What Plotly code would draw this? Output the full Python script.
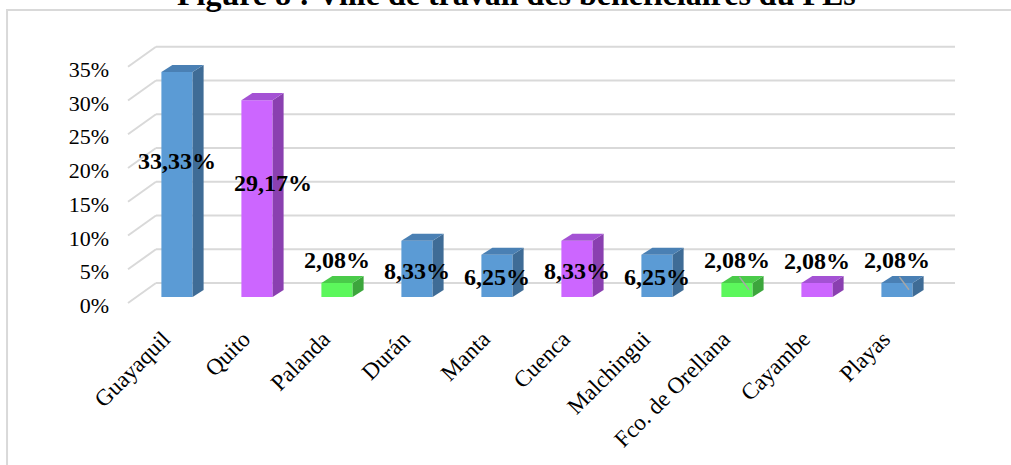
import plotly.graph_objects as go

# ---- data ----
categories = ["Guayaquil", "Quito", "Palanda", "Durán", "Manta", "Cuenca",
              "Malchingui", "Fco. de Orellana", "Cayambe", "Playas"]
values = [33.33, 29.17, 2.08, 8.33, 6.25, 8.33, 6.25, 2.08, 2.08, 2.08]
value_labels = ["33,33%", "29,17%", "2,08%", "8,33%", "6,25%", "8,33%",
                "6,25%", "2,08%", "2,08%", "2,08%"]
color_groups = ["blue", "purple", "green", "blue", "blue", "purple",
                "blue", "green", "purple", "blue"]
y_ticks = [0, 5, 10, 15, 20, 25, 30, 35]
title_text = "Figure 8 : Ville de travail des bénéficiaires du PEs"

# ---- styling ----
palette = {
    "blue":   {"front": "#5B9BD5", "side": "#3F6C96", "top": "#4A80B4"},
    "purple": {"front": "#CC66FF", "side": "#8A40B0", "top": "#A452D4"},
    "green":  {"front": "#5CF75C", "side": "#3CA63C", "top": "#4ACB4A"},
}
label_pos = [19.85, 16.6, 5.2, 3.55, 2.67, 3.55, 2.67, 5.2, 5.05, 5.2]
label_dx = [0, 0.2, 0, 0, 0, 0, 0, 0, 0, 0]
leader_line_bars = [7, 9]
BAR_W = 0.39
DEPTH_X = 0.1375
DEPTH_Y = 1.04
BACK_X0, BACK_X1 = -0.2625, 9.725
BACK_DY = 2.07
FRONT_X = -0.6125
FRONT_DY = -0.89
TICK_SHIFT = -1.25
XTICK_SHIFT = -0.17
FONT = "Liberation Serif, Times New Roman, serif"
GRID = "#D9D9D9"

fig = go.Figure()

shapes = []
# back-wall gridlines with diagonal perspective lines
for t in y_ticks:
    shapes.append(dict(type="line", xref="x", yref="y", layer="below",
                       x0=BACK_X0, x1=BACK_X1, y0=t + BACK_DY, y1=t + BACK_DY,
                       line=dict(color=GRID, width=2)))
    shapes.append(dict(type="line", xref="x", yref="y", layer="below",
                       x0=FRONT_X, x1=BACK_X0, y0=t + FRONT_DY, y1=t + BACK_DY,
                       line=dict(color=GRID, width=2)))

# front faces
fig.add_trace(go.Bar(
    x=list(range(len(categories))), y=values, width=BAR_W,
    marker=dict(color=[palette[g]["front"] for g in color_groups], line=dict(width=0)),
    hoverinfo="skip", showlegend=False))

# side and top faces
for i, (v, g) in enumerate(zip(values, color_groups)):
    xl, xr = i - BAR_W / 2, i + BAR_W / 2
    fig.add_trace(go.Scatter(
        x=[xr, xr + DEPTH_X, xr + DEPTH_X, xr, xr],
        y=[0, DEPTH_Y, v + DEPTH_Y, v, 0],
        fill="toself", fillcolor=palette[g]["side"], mode="lines",
        line=dict(width=0, color=palette[g]["side"]),
        hoverinfo="skip", showlegend=False))
    fig.add_trace(go.Scatter(
        x=[xl, xl + DEPTH_X, xr + DEPTH_X, xr, xl],
        y=[v, v + DEPTH_Y, v + DEPTH_Y, v, v],
        fill="toself", fillcolor=palette[g]["top"], mode="lines",
        line=dict(width=0, color=palette[g]["top"]),
        hoverinfo="skip", showlegend=False))

# small label leader lines
for i in leader_line_bars:
    v = values[i]
    fig.add_trace(go.Scatter(
        x=[i + 0.03, i + 0.15], y=[v + 0.9, v - 1.0], mode="lines",
        line=dict(color="#A6A6A6", width=1.5),
        hoverinfo="skip", showlegend=False))

# data labels
fig.add_trace(go.Scatter(
    x=[i + d for i, d in enumerate(label_dx)], y=label_pos,
    mode="text", text=[f"<b>{s}</b>" for s in value_labels],
    textfont=dict(family=FONT, size=24, color="black"),
    hoverinfo="skip", showlegend=False, cliponaxis=False))

# outer frame (left and top edges visible)
shapes.append(dict(type="rect", xref="paper", yref="paper",
                   x0=-0.1329, x1=1.2, y0=-0.7, y1=1.069,
                   line=dict(color=GRID, width=2), layer="below"))

fig.update_layout(
    width=1011, height=465,
    margin=dict(l=120, r=41, t=30, b=145, autoexpand=False),
    plot_bgcolor="white", paper_bgcolor="white",
    shapes=shapes,
    annotations=[dict(text=f"<b>{title_text}</b>", xref="paper", yref="paper",
                      x=0.466, y=1.056, xanchor="center", yanchor="bottom",
                      showarrow=False,
                      font=dict(family=FONT, size=32, color="black"))],
    xaxis=dict(range=[-0.7125, 9.9125],
               tickvals=[i + XTICK_SHIFT for i in range(len(categories))],
               ticktext=categories, tickangle=-45, showgrid=False,
               zeroline=False, showline=False, ticks="", automargin=False,
               tickfont=dict(family=FONT, size=23, color="black")),
    yaxis=dict(range=[-3.407, 39.56], tickvals=[t + TICK_SHIFT for t in y_ticks],
               ticktext=[f"{t}%" for t in y_ticks], showgrid=False,
               zeroline=False, showline=False, ticks="", ticklabelstandoff=10,
               automargin=False,
               tickfont=dict(family=FONT, size=22, color="black")),
    bargap=0.5,
)

fig.write_html("out.html", config={"displayModeBar": False},
               post_script="document.body.style.margin='0';document.body.style.padding='0';")
